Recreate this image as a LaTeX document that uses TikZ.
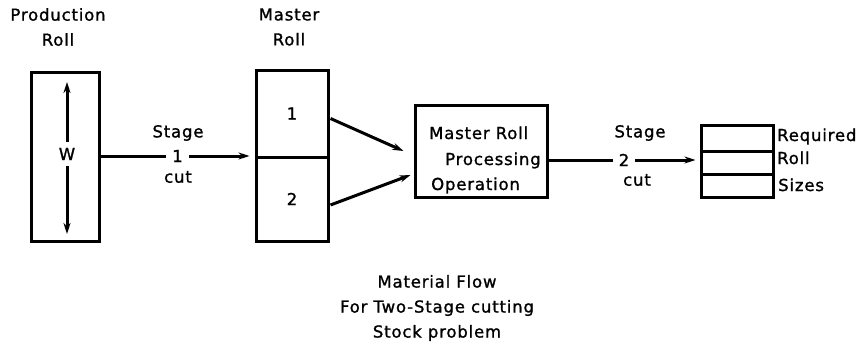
\documentclass[tikz,border=0pt]{standalone}
\usepackage{fontspec}
\setmainfont{DejaVu Sans}[FakeBold=1.2]
\usetikzlibrary{arrows.meta,calc}
\begin{document}
\begin{tikzpicture}[x=1pt,y=-1pt,
  every node/.style={font=\fontsize{16.5}{25}\selectfont\addfontfeature{LetterSpace=5}, inner sep=0pt},
  box/.style={draw, line width=3pt, minimum width=#1},
  arr/.style={line width=3pt, -{Stealth[length=11pt,width=7pt]}},
  lbl/.style={align=center}]
\useasboundingbox (0,0) rectangle (862,348);
% titles
\node[lbl] (t1) at (58,27) {Production\\Roll};
\node[lbl] (t2) at (289,27) {Master\\Roll};
% production roll
\node[box=68pt, minimum height=169pt] (prod) at (65,156.5) {};
\node (w) at (67,154) {W};
\draw[arr] (w.north) ++(0,-6) -- (67,82);
\draw[arr] (w.south) ++(0,6) -- (67,234);
% master roll
\node[box=72pt, minimum height=87pt] (m1) at (292,113.5) {1};
\node[box=72pt, minimum height=84pt] (m2) at (292,199) {2};
% processing
\node[box=132pt, minimum height=92pt] (proc) at (481,151) {};
\node[anchor=base west] (p1) at (429,139) {Master Roll};
\node[anchor=base west] (p2) at (445,165) {Processing};
\node[anchor=base west] (p3) at (431,190) {Operation};
% required roll sizes
\node[box=72pt, minimum height=26pt] (r1) at (737,138) {};
\node[box=72pt, minimum height=23pt] (r2) at (737,162.5) {};
\node[box=72pt, minimum height=23pt] (r3) at (737,185.5) {};
\node[anchor=base west] (q1) at (777,141) {Required};
\node[anchor=base west] (q2) at (777,164) {Roll};
\node[anchor=base west] (q3) at (778,191) {Sizes};
% stage 1
\coordinate (s1a) at (prod.east |- 0,156);
\coordinate (s1b) at (m1.west |- 0,156);
\draw[arr, shorten >=5pt] (s1a) -- node[fill=white, inner xsep=6pt, inner ysep=2pt] (n1) {1} (s1b);
\node (st1) at (178,133) {Stage};
\node (c1) at (178,177) {cut};
% master to processing
\draw[arr] ($(m1.east)+(1,5)$) -- ($(proc.west)+(-10,0)$);
\draw[arr] ($(m2.east)+(1,6)$) -- ($(proc.west)+(-3,24)$);
% stage 2
\coordinate (s2a) at (proc.east |- 0,160);
\coordinate (s2b) at (r2.west |- 0,160);
\draw[arr, shorten >=4pt] (s2a) -- node[fill=white, inner xsep=6pt, inner ysep=2pt] (n2) {2} (s2b);
\node (st2) at (640,133) {Stage};
\node (c2) at (637,180) {cut};
% caption
\node[lbl] (cap) at (437,308) {Material Flow\\For Two-Stage cutting\\Stock problem};
\end{tikzpicture}
\end{document}
